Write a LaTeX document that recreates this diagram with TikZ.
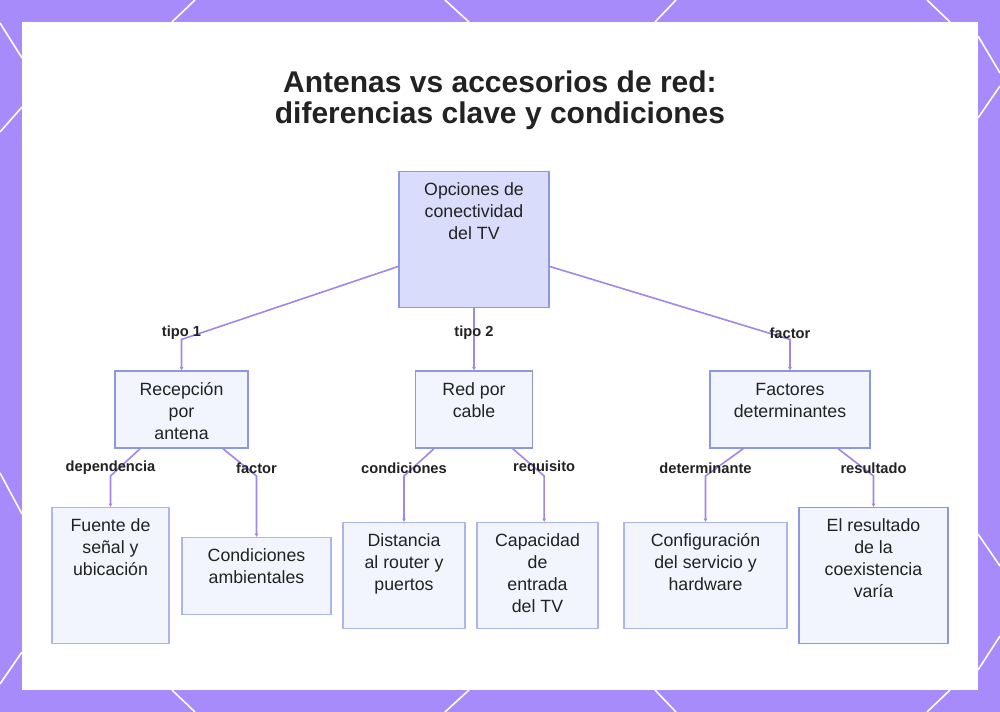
\documentclass[tikz,border=0pt]{standalone}
\usepackage{fontspec}
\setmainfont{Liberation Sans}
\usepackage{xcolor}
\usetikzlibrary{arrows.meta, positioning}
\definecolor{frame}{RGB}{167,139,250}
\definecolor{linkc}{RGB}{162,134,232}
\definecolor{rootfill}{RGB}{217,220,251}
\definecolor{boxfill}{RGB}{243,245,254}
\definecolor{boxline}{RGB}{140,152,226}
\definecolor{leafline}{RGB}{172,182,236}
\definecolor{ink}{RGB}{34,34,34}
\newcommand{\boxlines}[1]{\begin{tabular}[t]{@{}c@{}}#1\end{tabular}}
\tikzset{
    box/.style={rectangle, draw=boxline, line width=1.1pt, fill=boxfill, anchor=north, inner xsep=4pt, inner ysep=6pt, text height=12pt, font=\fontsize{13.3}{16.5}\selectfont, text=ink},
    rootbox/.style={box, fill=rootfill, text depth=78pt},
    tallbox/.style={box, draw=leafline, text depth=78pt},
    midbox/.style={box, draw=leafline, text depth=55.5pt},
    lowbox/.style={box, text depth=33.5pt},
    link/.style={-{Latex[length=2.5pt,width=3pt]}, draw=linkc, line width=1.2pt},
    tag/.style={font=\fontsize{11}{13}\selectfont\bfseries, text=ink, inner sep=1pt},
    headline/.style={font=\fontsize{22.5}{23.5}\selectfont\bfseries, text=ink, align=center},
    stripe/.style={white, line width=1.2pt}
}

\begin{document}
\begin{tikzpicture}[x=0.75pt, y=-0.75pt]
  \useasboundingbox (0,0) rectangle (1000,712);
  % frame and panel
  \fill[frame] (0,0) rectangle (1000,712);
  \fill[white] (22,22) rectangle (978,690);
  \draw[stripe] (195,0) -- (172,22);
  \draw[stripe] (445,0) -- (469,22);
  \draw[stripe] (676,0) -- (655,22);
  \draw[stripe] (927,0) -- (950,22);
  \draw[stripe] (172,690) -- (195,712);
  \draw[stripe] (469,690) -- (445,712);
  \draw[stripe] (655,690) -- (676,712);
  \draw[stripe] (950,690) -- (927,712);
  \draw[stripe] (0,23) -- (22,58);
  \draw[stripe] (0,132) -- (22,107);
  \draw[stripe] (0,473) -- (22,514);
  \draw[stripe] (0,684) -- (22,652);
  \draw[stripe] (978,36) -- (1000,73);
  \draw[stripe] (978,118) -- (1000,86);
  \draw[stripe] (978,534) -- (1000,566);
  \draw[stripe] (978,670) -- (1000,636);

  \node[headline] (head) at (500,100) {Antenas vs accesorios de red:\\diferencias clave y condiciones};

  % tree
  \node[rootbox, minimum width=112.5pt] (root) at (474,171) {\boxlines{Opciones de\\conectividad\\del TV}};
  \node[lowbox, minimum width=87.75pt, below=46.5pt of root] (cable) {\boxlines{Red por\\cable}};
  \node[lowbox, minimum width=99.75pt, left=124.5pt of cable] (antena) {\boxlines{Recepción\\por\\antena}};
  \node[lowbox, minimum width=120pt, right=132pt of cable] (factores) {\boxlines{Factores\\determinantes}};

  \node[tallbox, minimum width=87.75pt] (fuente) at (110.5,507) {\boxlines{Fuente de\\señal y\\ubicación}};
  \node[lowbox, draw=leafline, minimum width=111.75pt] (ambiente) at (256.5,537) {\boxlines{Condiciones\\ambientales}};
  \node[midbox, minimum width=91.5pt] (distancia) at (404,522) {\boxlines{Distancia\\al router y\\puertos}};
  \node[midbox, minimum width=90.75pt] (capacidad) at (537.5,522) {\boxlines{Capacidad\\de\\entrada\\del TV}};
  \node[midbox, minimum width=122.25pt] (config) at (705.5,522) {\boxlines{Configuración\\del servicio y\\hardware}};
  \node[tallbox, draw=boxline, minimum width=111.75pt] (resultado) at (873.5,507) {\boxlines{El resultado\\de la\\coexistencia\\varía}};

  \draw[link] ([yshift=31.5pt]root.south west) -- ([yshift=23.25pt]antena.north) node[tag, yshift=5pt]{tipo 1} -- (antena.north);
  \draw[link] (root.south) -- node[tag, yshift=5pt]{tipo 2} (cable.north);
  \draw[link] ([yshift=31.5pt]root.south east) -- ([yshift=23.25pt]factores.north) node[tag, yshift=5pt]{factor} -- (factores.north);

  \draw[link] ([xshift=-31pt]antena.south) -- ([yshift=23.25pt]fuente.north) node[tag, yshift=6pt]{dependencia} -- (fuente.north);
  \draw[link] ([xshift=31pt]antena.south) -- ([yshift=45.75pt]ambiente.north) node[tag, yshift=6pt]{factor} -- (ambiente.north);
  \draw[link] ([xshift=-30pt]cable.south) -- ([yshift=34.5pt]distancia.north) node[tag, yshift=6pt]{condiciones} -- (distancia.north);
  \draw[link] ([xshift=29pt]cable.south) -- ([xshift=5pt, yshift=34.5pt]capacidad.north) node[tag, yshift=6pt]{requisito} -- ([xshift=5pt]capacidad.north);
  \draw[link] ([xshift=-35pt]factores.south) -- ([yshift=34.5pt]config.north) node[tag, yshift=6pt]{determinante} -- (config.north);
  \draw[link] ([xshift=36pt]factores.south) -- ([yshift=23.25pt]resultado.north) node[tag, yshift=6pt]{resultado} -- (resultado.north);
\end{tikzpicture}
\end{document}
